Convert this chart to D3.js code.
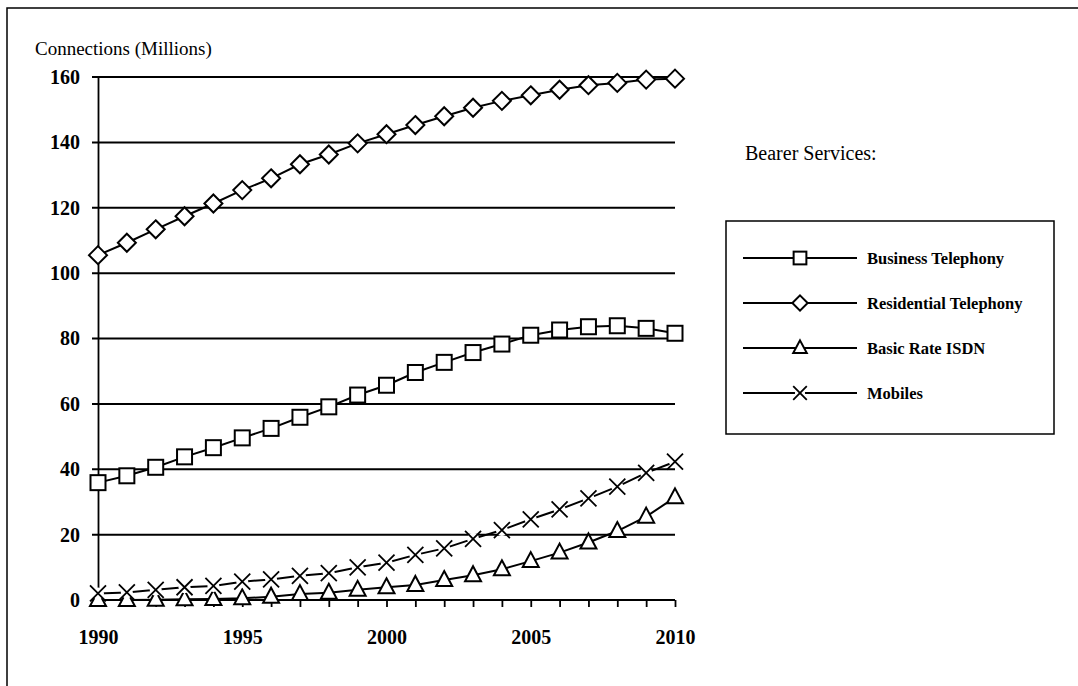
<!DOCTYPE html>
<html>
<head>
<meta charset="utf-8">
<script src="https://cdn.jsdelivr.net/npm/d3@7"></script>
<style>
  html, body { margin: 0; padding: 0; background: #fff; }
  svg { display: block; }
  text { font-family: "Liberation Serif", "Times New Roman", serif; fill: #000; }
</style>
</head>
<body>
<svg id="chart" width="1078" height="686"></svg>
<script>
// Forecast of network connections by bearer service, 1990-2010 (millions)
const years = d3.range(1990, 2011);
const business = [35.9, 38.0, 40.6, 43.8, 46.6, 49.6, 52.5, 55.9, 59.1, 62.7, 65.7,
                  69.6, 72.7, 75.7, 78.3, 81.0, 82.6, 83.6, 83.9, 83.1, 81.6];
const residential = [105.5, 109.3, 113.4, 117.4, 121.3, 125.4, 129.0, 133.3, 136.3, 139.7, 142.5,
                     145.3, 148.0, 150.6, 152.7, 154.4, 156.1, 157.5, 158.2, 159.2, 159.5];
const isdn = [0.0, 0.0, 0.1, 0.2, 0.3, 0.5, 1.0, 1.8, 2.2, 3.1, 3.9,
              4.6, 6.1, 7.6, 9.4, 11.9, 14.5, 17.6, 21.1, 25.5, 31.4];
const mobiles = [2.0, 2.3, 3.1, 3.9, 4.3, 5.6, 6.3, 7.4, 8.2, 10.0, 11.4,
                 13.8, 15.8, 18.7, 21.4, 24.7, 27.7, 31.1, 34.7, 38.9, 42.3];
const seriesNames = ["Business Telephony", "Residential Telephony", "Basic Rate ISDN", "Mobiles"];
const seriesShapes = ["square", "diamond", "triangle", "cross"];
const yTicks = [0, 20, 40, 60, 80, 100, 120, 140, 160];
const xTickLabels = [1990, 1995, 2000, 2005, 2010];

const series = [business, residential, isdn, mobiles].map((vals, i) => ({
  name: seriesNames[i], shape: seriesShapes[i],
  points: vals.map((v, j) => ({ year: years[j], value: v }))
}));

const svg = d3.select("#chart");

// outer frame (runs off the right and bottom of the page)
svg.append("rect")
  .attr("x", 7).attr("y", 8).attr("width", 1100).attr("height", 700)
  .attr("fill", "none").attr("stroke", "#000").attr("stroke-width", 1.5);

const x = d3.scaleLinear().domain([1990, 2010]).range([98, 675]);
const y = d3.scaleLinear().domain([0, 160]).range([600, 77]);

// y axis title
svg.append("text").attr("x", 35).attr("y", 55)
  .attr("font-size", 19).text("Connections (Millions)");

// horizontal gridlines with left tick stubs
const gy = svg.append("g");
gy.selectAll("line").data(yTicks).join("line")
  .attr("x1", 92).attr("x2", x(2010))
  .attr("y1", d => y(d)).attr("y2", d => y(d))
  .attr("stroke", "#000").attr("stroke-width", 2);

// y tick labels
svg.append("g")
  .attr("transform", `translate(${x.range()[0]},0)`)
  .call(d3.axisLeft(y).tickValues(yTicks).tickSize(0).tickPadding(18))
  .call(g => g.select(".domain").attr("stroke-width", 1.8).attr("stroke", "#000"))
  .call(g => g.selectAll("text").attr("font-size", 20).attr("font-weight", "bold")
    .attr("font-family", "Liberation Serif, serif").attr("fill", "#000"));

// x axis: yearly ticks below the zero line, labels every five years
svg.append("g")
  .attr("transform", `translate(0,${y(0)})`)
  .call(d3.axisBottom(x).tickValues(years).tickSize(7).tickFormat(""))
  .call(g => g.select(".domain").remove())
  .call(g => g.selectAll("line").attr("stroke", "#000").attr("stroke-width", 1.8));
svg.append("g")
  .attr("transform", `translate(0,${y(0)})`)
  .call(d3.axisBottom(x).tickValues(xTickLabels).tickSize(0).tickPadding(30).tickFormat(d3.format("d")))
  .call(g => g.select(".domain").remove())
  .call(g => g.selectAll("text").attr("font-size", 20).attr("font-weight", "bold")
    .attr("font-family", "Liberation Serif, serif").attr("fill", "#000"));

// marker shapes
function drawMarker(sel, shape, k = 1) {
  if (shape === "square") {
    sel.append("rect").attr("x", -7.5 * k).attr("y", -7.5 * k).attr("width", 15 * k).attr("height", 15 * k)
      .attr("fill", "#fff").attr("stroke", "#000").attr("stroke-width", 2);
  } else if (shape === "diamond") {
    sel.append("path").attr("d", `M0,${-9 * k}L${9 * k},0L0,${9 * k}L${-9 * k},0Z`)
      .attr("fill", "#fff").attr("stroke", "#000").attr("stroke-width", 2);
  } else if (shape === "triangle") {
    sel.append("path").attr("d", `M0,${-9 * k}L${8 * k},${6 * k}L${-8 * k},${6 * k}Z`)
      .attr("fill", "#fff").attr("stroke", "#000").attr("stroke-width", 2);
  } else {
    sel.append("circle").attr("r", 6 * k).attr("fill", "#fff");
    sel.append("path").attr("d", `M${-8 * k},${-8 * k}L${8 * k},${8 * k}M${-8 * k},${8 * k}L${8 * k},${-8 * k}`)
      .attr("fill", "none").attr("stroke", "#000").attr("stroke-width", 1.8);
  }
}

const line = d3.line().x(d => x(d.year)).y(d => y(d.value));

// series lines and markers
series.forEach(s => {
  svg.append("path").datum(s.points).attr("d", line)
    .attr("fill", "none").attr("stroke", "#000").attr("stroke-width", 2);
});
series.forEach(s => {
  svg.append("g").selectAll("g").data(s.points).join("g")
    .attr("transform", d => `translate(${x(d.year)},${y(d.value)})`)
    .each(function () { drawMarker(d3.select(this), s.shape); });
});

// legend
svg.append("text").attr("x", 745).attr("y", 160)
  .attr("font-size", 20).text("Bearer Services:");
svg.append("rect").attr("x", 726).attr("y", 221).attr("width", 328).attr("height", 213)
  .attr("fill", "none").attr("stroke", "#000").attr("stroke-width", 1.5);
const legendRows = svg.append("g").selectAll("g").data(series).join("g")
  .attr("transform", (d, i) => `translate(0,${258 + i * 45})`);
legendRows.append("line").attr("x1", 743).attr("x2", 857)
  .attr("stroke", "#000").attr("stroke-width", 1.8);
legendRows.append("g").attr("transform", "translate(800,0)")
  .each(function (d) { drawMarker(d3.select(this), d.shape, 0.85); });
legendRows.append("text").attr("x", 867).attr("y", 5.5)
  .attr("font-size", 16.5).attr("font-weight", "bold")
  .text(d => d.name);
</script>
</body>
</html>
